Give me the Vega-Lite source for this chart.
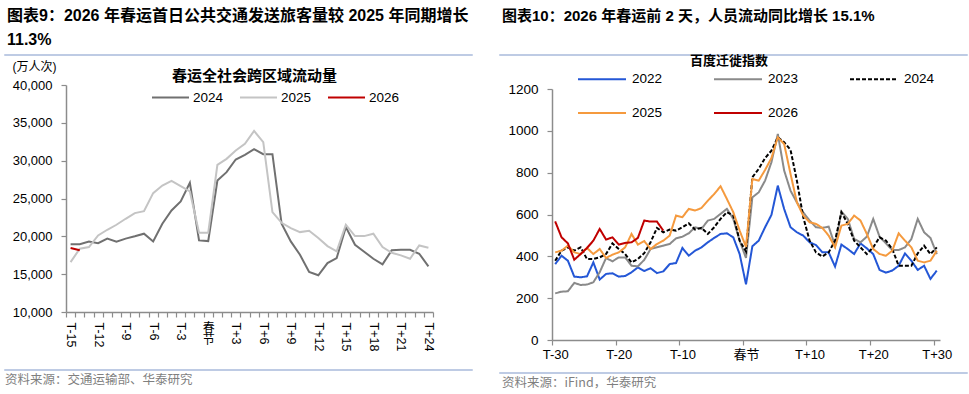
{
"$schema": "https://vega.github.io/schema/vega-lite/v6.json",
"background": "white",
"padding": {"left": 3, "top": 6, "right": 0, "bottom": 0},
"spacing": 25,
"resolve": {"scale": {"color": "independent", "strokeDash": "independent"}, "legend": {"color": "independent", "strokeDash": "independent"}},
"datasets": {
"left": [
{"d":-15,"s":"2024","v":18950},{"d":-14,"s":"2024","v":18950},{"d":-13,"s":"2024","v":19300},{"d":-12,"s":"2024","v":19100},{"d":-11,"s":"2024","v":19700},{"d":-10,"s":"2024","v":19300},{"d":-9,"s":"2024","v":19700},{"d":-8,"s":"2024","v":20000},{"d":-7,"s":"2024","v":20350},{"d":-6,"s":"2024","v":19330},{"d":-5,"s":"2024","v":21660},{"d":-4,"s":"2024","v":23420},{"d":-3,"s":"2024","v":24600},{"d":-2,"s":"2024","v":27070},{"d":-1,"s":"2024","v":19460},{"d":0,"s":"2024","v":19370},{"d":1,"s":"2024","v":27380},{"d":2,"s":"2024","v":28480},{"d":3,"s":"2024","v":30150},{"d":4,"s":"2024","v":30770},{"d":5,"s":"2024","v":31510},{"d":6,"s":"2024","v":30850},{"d":7,"s":"2024","v":30850},{"d":8,"s":"2024","v":21660},{"d":9,"s":"2024","v":19330},{"d":10,"s":"2024","v":17570},{"d":11,"s":"2024","v":15290},{"d":12,"s":"2024","v":14850},{"d":13,"s":"2024","v":16470},{"d":14,"s":"2024","v":17130},{"d":15,"s":"2024","v":21220},{"d":16,"s":"2024","v":18890},{"d":17,"s":"2024","v":17970},{"d":18,"s":"2024","v":17040},{"d":19,"s":"2024","v":16300},{"d":20,"s":"2024","v":18150},{"d":21,"s":"2024","v":18230},{"d":22,"s":"2024","v":18230},{"d":23,"s":"2024","v":17700},{"d":24,"s":"2024","v":16030},
{"d":-15,"s":"2025","v":16600},{"d":-14,"s":"2025","v":18360},{"d":-13,"s":"2025","v":18580},{"d":-12,"s":"2025","v":20120},{"d":-11,"s":"2025","v":20870},{"d":-10,"s":"2025","v":21530},{"d":-9,"s":"2025","v":22320},{"d":-8,"s":"2025","v":23070},{"d":-7,"s":"2025","v":23330},{"d":-6,"s":"2025","v":25710},{"d":-5,"s":"2025","v":26720},{"d":-4,"s":"2025","v":27330},{"d":-3,"s":"2025","v":26630},{"d":-2,"s":"2025","v":25930},{"d":-1,"s":"2025","v":20470},{"d":0,"s":"2025","v":20470},{"d":1,"s":"2025","v":29450},{"d":2,"s":"2025","v":30240},{"d":3,"s":"2025","v":31340},{"d":4,"s":"2025","v":32220},{"d":5,"s":"2025","v":33930},{"d":6,"s":"2025","v":32440},{"d":7,"s":"2025","v":23200},{"d":8,"s":"2025","v":21790},{"d":9,"s":"2025","v":21090},{"d":10,"s":"2025","v":20560},{"d":11,"s":"2025","v":20740},{"d":12,"s":"2025","v":19770},{"d":13,"s":"2025","v":18710},{"d":14,"s":"2025","v":18010},{"d":15,"s":"2025","v":21530},{"d":16,"s":"2025","v":20030},{"d":17,"s":"2025","v":20030},{"d":18,"s":"2025","v":20340},{"d":19,"s":"2025","v":18580},{"d":20,"s":"2025","v":17830},{"d":21,"s":"2025","v":17480},{"d":22,"s":"2025","v":17040},{"d":23,"s":"2025","v":18800},{"d":24,"s":"2025","v":18490},
{"d":-15,"s":"2026","v":18450},{"d":-14,"s":"2026","v":18150}
],
"right": [
{"d":-30,"s":"2022","v":363},{"d":-29,"s":"2022","v":403},{"d":-28,"s":"2022","v":379},{"d":-27,"s":"2022","v":303},{"d":-26,"s":"2022","v":300},{"d":-25,"s":"2022","v":304},{"d":-24,"s":"2022","v":371},{"d":-23,"s":"2022","v":289},{"d":-22,"s":"2022","v":316},{"d":-21,"s":"2022","v":319},{"d":-20,"s":"2022","v":303},{"d":-19,"s":"2022","v":306},{"d":-18,"s":"2022","v":324},{"d":-17,"s":"2022","v":347},{"d":-16,"s":"2022","v":330},{"d":-15,"s":"2022","v":343},{"d":-14,"s":"2022","v":320},{"d":-13,"s":"2022","v":328},{"d":-12,"s":"2022","v":363},{"d":-11,"s":"2022","v":368},{"d":-10,"s":"2022","v":440},{"d":-9,"s":"2022","v":403},{"d":-8,"s":"2022","v":427},{"d":-7,"s":"2022","v":443},{"d":-6,"s":"2022","v":467},{"d":-5,"s":"2022","v":488},{"d":-4,"s":"2022","v":507},{"d":-3,"s":"2022","v":510},{"d":-2,"s":"2022","v":491},{"d":-1,"s":"2022","v":411},{"d":0,"s":"2022","v":266},{"d":1,"s":"2022","v":448},{"d":2,"s":"2022","v":475},{"d":3,"s":"2022","v":539},{"d":4,"s":"2022","v":598},{"d":5,"s":"2022","v":738},{"d":6,"s":"2022","v":626},{"d":7,"s":"2022","v":539},{"d":8,"s":"2022","v":515},{"d":9,"s":"2022","v":499},{"d":10,"s":"2022","v":467},{"d":11,"s":"2022","v":454},{"d":12,"s":"2022","v":419},{"d":13,"s":"2022","v":419},{"d":14,"s":"2022","v":351},{"d":15,"s":"2022","v":456},{"d":16,"s":"2022","v":435},{"d":17,"s":"2022","v":411},{"d":18,"s":"2022","v":462},{"d":19,"s":"2022","v":438},{"d":20,"s":"2022","v":411},{"d":21,"s":"2022","v":335},{"d":22,"s":"2022","v":322},{"d":23,"s":"2022","v":332},{"d":24,"s":"2022","v":355},{"d":25,"s":"2022","v":414},{"d":26,"s":"2022","v":379},{"d":27,"s":"2022","v":335},{"d":28,"s":"2022","v":355},{"d":29,"s":"2022","v":292},{"d":30,"s":"2022","v":332},
{"d":-30,"s":"2023","v":223},{"d":-29,"s":"2023","v":231},{"d":-28,"s":"2023","v":233},{"d":-27,"s":"2023","v":273},{"d":-26,"s":"2023","v":263},{"d":-25,"s":"2023","v":265},{"d":-24,"s":"2023","v":276},{"d":-23,"s":"2023","v":324},{"d":-22,"s":"2023","v":392},{"d":-21,"s":"2023","v":376},{"d":-20,"s":"2023","v":395},{"d":-19,"s":"2023","v":395},{"d":-18,"s":"2023","v":355},{"d":-17,"s":"2023","v":352},{"d":-16,"s":"2023","v":383},{"d":-15,"s":"2023","v":435},{"d":-14,"s":"2023","v":443},{"d":-13,"s":"2023","v":451},{"d":-12,"s":"2023","v":459},{"d":-11,"s":"2023","v":486},{"d":-10,"s":"2023","v":494},{"d":-9,"s":"2023","v":510},{"d":-8,"s":"2023","v":539},{"d":-7,"s":"2023","v":531},{"d":-6,"s":"2023","v":571},{"d":-5,"s":"2023","v":579},{"d":-4,"s":"2023","v":603},{"d":-3,"s":"2023","v":627},{"d":-2,"s":"2023","v":579},{"d":-1,"s":"2023","v":475},{"d":0,"s":"2023","v":392},{"d":1,"s":"2023","v":682},{"d":2,"s":"2023","v":706},{"d":3,"s":"2023","v":762},{"d":4,"s":"2023","v":850},{"d":5,"s":"2023","v":985},{"d":6,"s":"2023","v":810},{"d":7,"s":"2023","v":714},{"d":8,"s":"2023","v":658},{"d":9,"s":"2023","v":610},{"d":10,"s":"2023","v":571},{"d":11,"s":"2023","v":539},{"d":12,"s":"2023","v":536},{"d":13,"s":"2023","v":542},{"d":14,"s":"2023","v":451},{"d":15,"s":"2023","v":614},{"d":16,"s":"2023","v":579},{"d":17,"s":"2023","v":483},{"d":18,"s":"2023","v":467},{"d":19,"s":"2023","v":494},{"d":20,"s":"2023","v":579},{"d":21,"s":"2023","v":494},{"d":22,"s":"2023","v":462},{"d":23,"s":"2023","v":430},{"d":24,"s":"2023","v":430},{"d":25,"s":"2023","v":443},{"d":26,"s":"2023","v":483},{"d":27,"s":"2023","v":579},{"d":28,"s":"2023","v":515},{"d":29,"s":"2023","v":488},{"d":30,"s":"2023","v":411},
{"d":-30,"s":"2024","v":379},{"d":-29,"s":"2024","v":427},{"d":-28,"s":"2024","v":443},{"d":-27,"s":"2024","v":427},{"d":-26,"s":"2024","v":443},{"d":-25,"s":"2024","v":387},{"d":-24,"s":"2024","v":387},{"d":-23,"s":"2024","v":395},{"d":-22,"s":"2024","v":411},{"d":-21,"s":"2024","v":462},{"d":-20,"s":"2024","v":435},{"d":-19,"s":"2024","v":411},{"d":-18,"s":"2024","v":371},{"d":-17,"s":"2024","v":387},{"d":-16,"s":"2024","v":415},{"d":-15,"s":"2024","v":467},{"d":-14,"s":"2024","v":536},{"d":-13,"s":"2024","v":515},{"d":-12,"s":"2024","v":528},{"d":-11,"s":"2024","v":523},{"d":-10,"s":"2024","v":539},{"d":-9,"s":"2024","v":558},{"d":-8,"s":"2024","v":528},{"d":-7,"s":"2024","v":536},{"d":-6,"s":"2024","v":507},{"d":-5,"s":"2024","v":539},{"d":-4,"s":"2024","v":579},{"d":-3,"s":"2024","v":611},{"d":-2,"s":"2024","v":595},{"d":-1,"s":"2024","v":475},{"d":0,"s":"2024","v":423},{"d":1,"s":"2024","v":778},{"d":2,"s":"2024","v":818},{"d":3,"s":"2024","v":870},{"d":4,"s":"2024","v":905},{"d":5,"s":"2024","v":969},{"d":6,"s":"2024","v":945},{"d":7,"s":"2024","v":909},{"d":8,"s":"2024","v":762},{"d":9,"s":"2024","v":587},{"d":10,"s":"2024","v":475},{"d":11,"s":"2024","v":419},{"d":12,"s":"2024","v":399},{"d":13,"s":"2024","v":419},{"d":14,"s":"2024","v":475},{"d":15,"s":"2024","v":611},{"d":16,"s":"2024","v":555},{"d":17,"s":"2024","v":475},{"d":18,"s":"2024","v":443},{"d":19,"s":"2024","v":411},{"d":20,"s":"2024","v":443},{"d":21,"s":"2024","v":491},{"d":22,"s":"2024","v":475},{"d":23,"s":"2024","v":435},{"d":24,"s":"2024","v":355},{"d":25,"s":"2024","v":355},{"d":26,"s":"2024","v":355},{"d":27,"s":"2024","v":414},{"d":28,"s":"2024","v":451},{"d":29,"s":"2024","v":411},{"d":30,"s":"2024","v":443},
{"d":-30,"s":"2025","v":419},{"d":-29,"s":"2025","v":427},{"d":-28,"s":"2025","v":451},{"d":-27,"s":"2025","v":419},{"d":-26,"s":"2025","v":411},{"d":-25,"s":"2025","v":440},{"d":-24,"s":"2025","v":411},{"d":-23,"s":"2025","v":435},{"d":-22,"s":"2025","v":392},{"d":-21,"s":"2025","v":408},{"d":-20,"s":"2025","v":419},{"d":-19,"s":"2025","v":443},{"d":-18,"s":"2025","v":507},{"d":-17,"s":"2025","v":456},{"d":-16,"s":"2025","v":473},{"d":-15,"s":"2025","v":435},{"d":-14,"s":"2025","v":459},{"d":-13,"s":"2025","v":475},{"d":-12,"s":"2025","v":499},{"d":-11,"s":"2025","v":595},{"d":-10,"s":"2025","v":587},{"d":-9,"s":"2025","v":627},{"d":-8,"s":"2025","v":619},{"d":-7,"s":"2025","v":631},{"d":-6,"s":"2025","v":666},{"d":-5,"s":"2025","v":698},{"d":-4,"s":"2025","v":735},{"d":-3,"s":"2025","v":674},{"d":-2,"s":"2025","v":611},{"d":-1,"s":"2025","v":523},{"d":0,"s":"2025","v":445},{"d":1,"s":"2025","v":770},{"d":2,"s":"2025","v":762},{"d":3,"s":"2025","v":813},{"d":4,"s":"2025","v":870},{"d":5,"s":"2025","v":969},{"d":6,"s":"2025","v":937},{"d":7,"s":"2025","v":794},{"d":8,"s":"2025","v":658},{"d":9,"s":"2025","v":595},{"d":10,"s":"2025","v":563},{"d":11,"s":"2025","v":555},{"d":12,"s":"2025","v":536},{"d":13,"s":"2025","v":499},{"d":14,"s":"2025","v":443},{"d":15,"s":"2025","v":547},{"d":16,"s":"2025","v":555},{"d":17,"s":"2025","v":595},{"d":18,"s":"2025","v":571},{"d":19,"s":"2025","v":507},{"d":20,"s":"2025","v":435},{"d":21,"s":"2025","v":411},{"d":22,"s":"2025","v":403},{"d":23,"s":"2025","v":427},{"d":24,"s":"2025","v":510},{"d":25,"s":"2025","v":475},{"d":26,"s":"2025","v":443},{"d":27,"s":"2025","v":379},{"d":28,"s":"2025","v":371},{"d":29,"s":"2025","v":379},{"d":30,"s":"2025","v":427},
{"d":-30,"s":"2026","v":567},{"d":-29,"s":"2026","v":491},{"d":-28,"s":"2026","v":462},{"d":-27,"s":"2026","v":384},{"d":-26,"s":"2026","v":411},{"d":-25,"s":"2026","v":440},{"d":-24,"s":"2026","v":475},{"d":-23,"s":"2026","v":531},{"d":-22,"s":"2026","v":480},{"d":-21,"s":"2026","v":491},{"d":-20,"s":"2026","v":456},{"d":-19,"s":"2026","v":464},{"d":-18,"s":"2026","v":467},{"d":-17,"s":"2026","v":488},{"d":-16,"s":"2026","v":571},{"d":-15,"s":"2026","v":566},{"d":-14,"s":"2026","v":566},{"d":-13,"s":"2026","v":523}
]
},
"hconcat": [
{
"spacing": 3,
"vconcat": [
{
"width": 467, "height": 0.01,
"view": {"stroke": "#a8badb", "strokeWidth": 1.5},
"title": {"text": ["图表9：2026 年春运首日公共交通发送旅客量较 2025 年同期增长", "11.3%"], "anchor": "start", "frame": "group", "dx": 2, "offset": 7, "fontSize": 16, "fontWeight": "bold", "lineHeight": 24, "color": "#000000"},
"data": {"values": [{}]},
"mark": {"type": "rule", "opacity": 0},
"encoding": {}
},
{
"spacing": 5,
"hconcat": [
{
"width": 1, "height": 1,
"view": {"stroke": "transparent"},
"data": {"values": [{}]},
"mark": {"type": "rule", "opacity": 0},
"encoding": {}
},
{
"width": 367, "height": 227,
"title": {"text": "春运全社会跨区域流动量", "anchor": "middle", "frame": "group", "dx": 5, "offset": -24, "fontSize": 15, "fontWeight": "bold", "font": "Noto Sans CJK SC", "color": "#000000"},
"data": {"name": "left"},
"layer": [
{
"mark": {"type": "line", "strokeWidth": 2},
"encoding": {
"x": {"field": "d", "type": "quantitative", "scale": {"domain": [-15.5, 24.5], "nice": false, "zero": false},
"axis": {"orient": "bottom", "values": [-15.5,-14.5,-13.5,-12.5,-11.5,-10.5,-9.5,-8.5,-7.5,-6.5,-5.5,-4.5,-3.5,-2.5,-1.5,-0.5,0.5,1.5,2.5,3.5,4.5,5.5,6.5,7.5,8.5,9.5,10.5,11.5,12.5,13.5,14.5,15.5,16.5,17.5,18.5,19.5,20.5,21.5,22.5,23.5,24.5],
"labelExpr": "((datum.value + 0.5) % 3 == 0 && (datum.value + 0.5) != 0) ? ((datum.value + 0.5) < 0 ? 'T' + (datum.value + 0.5) : 'T+' + (datum.value + 0.5)) : ''",
"labelAngle": 90, "labelAlign": "left", "labelBaseline": "middle",
"labelFontSize": 12.5, "labelOffset": 4.59, "labelPadding": 5, "labelOverlap": false, "labelFlush": false, "tickSize": 5,
"title": "\u00a0", "titleFontSize": 6, "titlePadding": 8}},
"y": {"field": "v", "type": "quantitative", "scale": {"domain": [10000, 40000], "nice": false, "zero": false},
"axis": {"values": [10000,15000,20000,25000,30000,35000,40000], "format": ",d", "labelFontSize": 13, "labelPadding": 9, "labelOverlap": false, "tickSize": 5, "title": "(万人次)", "titleAngle": 0, "titleX": -54, "titleY": -19, "titleAlign": "left", "titleBaseline": "middle", "titleFontSize": 12, "titleFontWeight": "normal"}},
"color": {"field": "s", "type": "nominal", "scale": {"domain": ["2024","2025","2026"], "range": ["#707070","#c4c4c4","#c00000"]},
"legend": {"orient": "none", "legendX": 146, "legendY": 23, "direction": "horizontal", "columns": 3, "title": null, "symbolType": "stroke", "symbolSize": 1369, "symbolStrokeWidth": 2, "labelFontSize": 13.5, "labelOffset": 3, "columnPadding": 12}}
}
},
{
"mark": {"type": "point", "opacity": 0},
"encoding": {
"x": {"field": "d", "type": "quantitative",
"axis": {"orient": "bottom", "values": [-0.5], "labelExpr": "['春','节']", "labelAngle": 0, "labelAlign": "center", "labelBaseline": "top", "labelFontSize": 12, "labelLineHeight": 12, "labelOffset": 4.59, "labelPadding": 5, "labelOverlap": false, "labelFlush": false, "tickSize": 5, "tickOpacity": 0, "domain": false, "title": null}},
"y": {"field": "v", "type": "quantitative",
"axis": {"values": [10000,15000,20000,25000,30000,35000,40000], "format": ",d", "labelFontSize": 13, "labelPadding": 9, "labelOverlap": false, "tickSize": 5, "title": "(万人次)", "titleAngle": 0, "titleX": -54, "titleY": -19, "titleAlign": "left", "titleBaseline": "middle", "titleFontSize": 12, "titleFontWeight": "normal"}}
}
}
],
"resolve": {"axis": {"x": "independent"}}
}
]
},
{
"width": 467, "height": 0.01,
"view": {"stroke": "#a8badb", "strokeWidth": 1.5},
"title": {"text": "资料来源：交通运输部、华泰研究", "orient": "bottom", "anchor": "start", "frame": "group", "dx": 0, "offset": 3, "fontSize": 12.5, "fontWeight": "normal", "color": "#7f7f7f", "font": "Noto Sans CJK SC"},
"data": {"values": [{}]},
"mark": {"type": "rule", "opacity": 0},
"encoding": {}
}
]
},
{
"spacing": -2,
"vconcat": [
{
"width": 467, "height": 0.01,
"view": {"stroke": "#a8badb", "strokeWidth": 1.5},
"title": {"text": "图表10：2026 年春运前 2 天，人员流动同比增长 15.1%", "anchor": "start", "frame": "group", "dx": 2, "offset": 31, "fontSize": 15, "fontWeight": "bold", "color": "#000000"},
"data": {"values": [{}]},
"mark": {"type": "rule", "opacity": 0},
"encoding": {}
},
{
"spacing": 5,
"hconcat": [
{
"width": 1, "height": 1,
"view": {"stroke": "transparent"},
"data": {"values": [{}]},
"mark": {"type": "rule", "opacity": 0},
"encoding": {}
},
{
"width": 388, "height": 251,
"title": {"text": "百度迁徙指数", "anchor": "middle", "frame": "group", "dx": -17, "offset": 14, "fontSize": 13, "fontWeight": "bold", "font": "Noto Sans CJK SC", "color": "#000000"},
"data": {"name": "right"},
"mark": {"type": "line", "strokeWidth": 2},
"encoding": {
"x": {"field": "d", "type": "quantitative", "scale": {"domain": [-30.5, 30.5], "nice": false, "zero": false},
"axis": {"values": [-30.5,-20.5,-10.5,-0.5,9.5,19.5,29.5],
"labelExpr": "(datum.value + 0.5) == 0 ? '春节' : ((datum.value + 0.5) < 0 ? 'T' + (datum.value + 0.5) : 'T+' + (datum.value + 0.5))",
"labelFontSize": 13, "labelOffset": 3.18, "labelPadding": 3, "labelOverlap": false, "labelFlush": false, "tickSize": 5, "title": "\u00a0", "titleFontSize": 2, "titlePadding": 10}},
"y": {"field": "v", "type": "quantitative", "scale": {"domain": [0, 1200], "nice": false},
"axis": {"values": [0,200,400,600,800,1000,1200], "format": "d", "labelFontSize": 13.5, "labelPadding": 9, "tickSize": 5, "title": null}},
"color": {"field": "s", "type": "nominal", "scale": {"domain": ["2022","2023","2024","2025","2026"], "range": ["#2457d6","#8a8a8a","#000000","#f59a3e","#c00000"]},
"legend": {"orient": "none", "legendX": 77, "legendY": -1, "direction": "horizontal", "columns": 3, "title": null, "symbolType": "stroke", "symbolSize": 2304, "symbolStrokeWidth": 2, "labelFontSize": 13.5, "labelOffset": 5, "columnPadding": 47, "rowPadding": 2}},
"strokeDash": {"field": "s", "type": "nominal", "scale": {"domain": ["2022","2023","2024","2025","2026"], "range": [[1,0],[1,0],[4,2],[1,0],[1,0]]}}
}
}
]
},
{
"width": 467, "height": 0.01,
"view": {"stroke": "#a8badb", "strokeWidth": 1.5},
"title": {"text": "资料来源：iFind，华泰研究", "orient": "bottom", "anchor": "start", "frame": "group", "dx": 2, "offset": 3, "fontSize": 12.5, "fontWeight": "normal", "color": "#7f7f7f", "font": "Noto Sans CJK SC"},
"data": {"values": [{}]},
"mark": {"type": "rule", "opacity": 0},
"encoding": {}
}
]
}
],
"config": {
"font": "Liberation Sans, Noto Sans CJK SC",
"view": {"stroke": null},
"axis": {"grid": false, "domainColor": "#8c8c8c", "tickColor": "#8c8c8c", "domainWidth": 1.5, "tickWidth": 1.2, "labelColor": "#000000", "labelFont": "Liberation Sans, Noto Sans CJK SC", "titleFont": "Liberation Sans, Noto Sans CJK SC", "titleColor": "#000000"},
"legend": {"labelFont": "Liberation Sans", "labelColor": "#000000"},
"title": {"font": "Liberation Sans, Noto Sans CJK SC", "color": "#000000"}
}
}
